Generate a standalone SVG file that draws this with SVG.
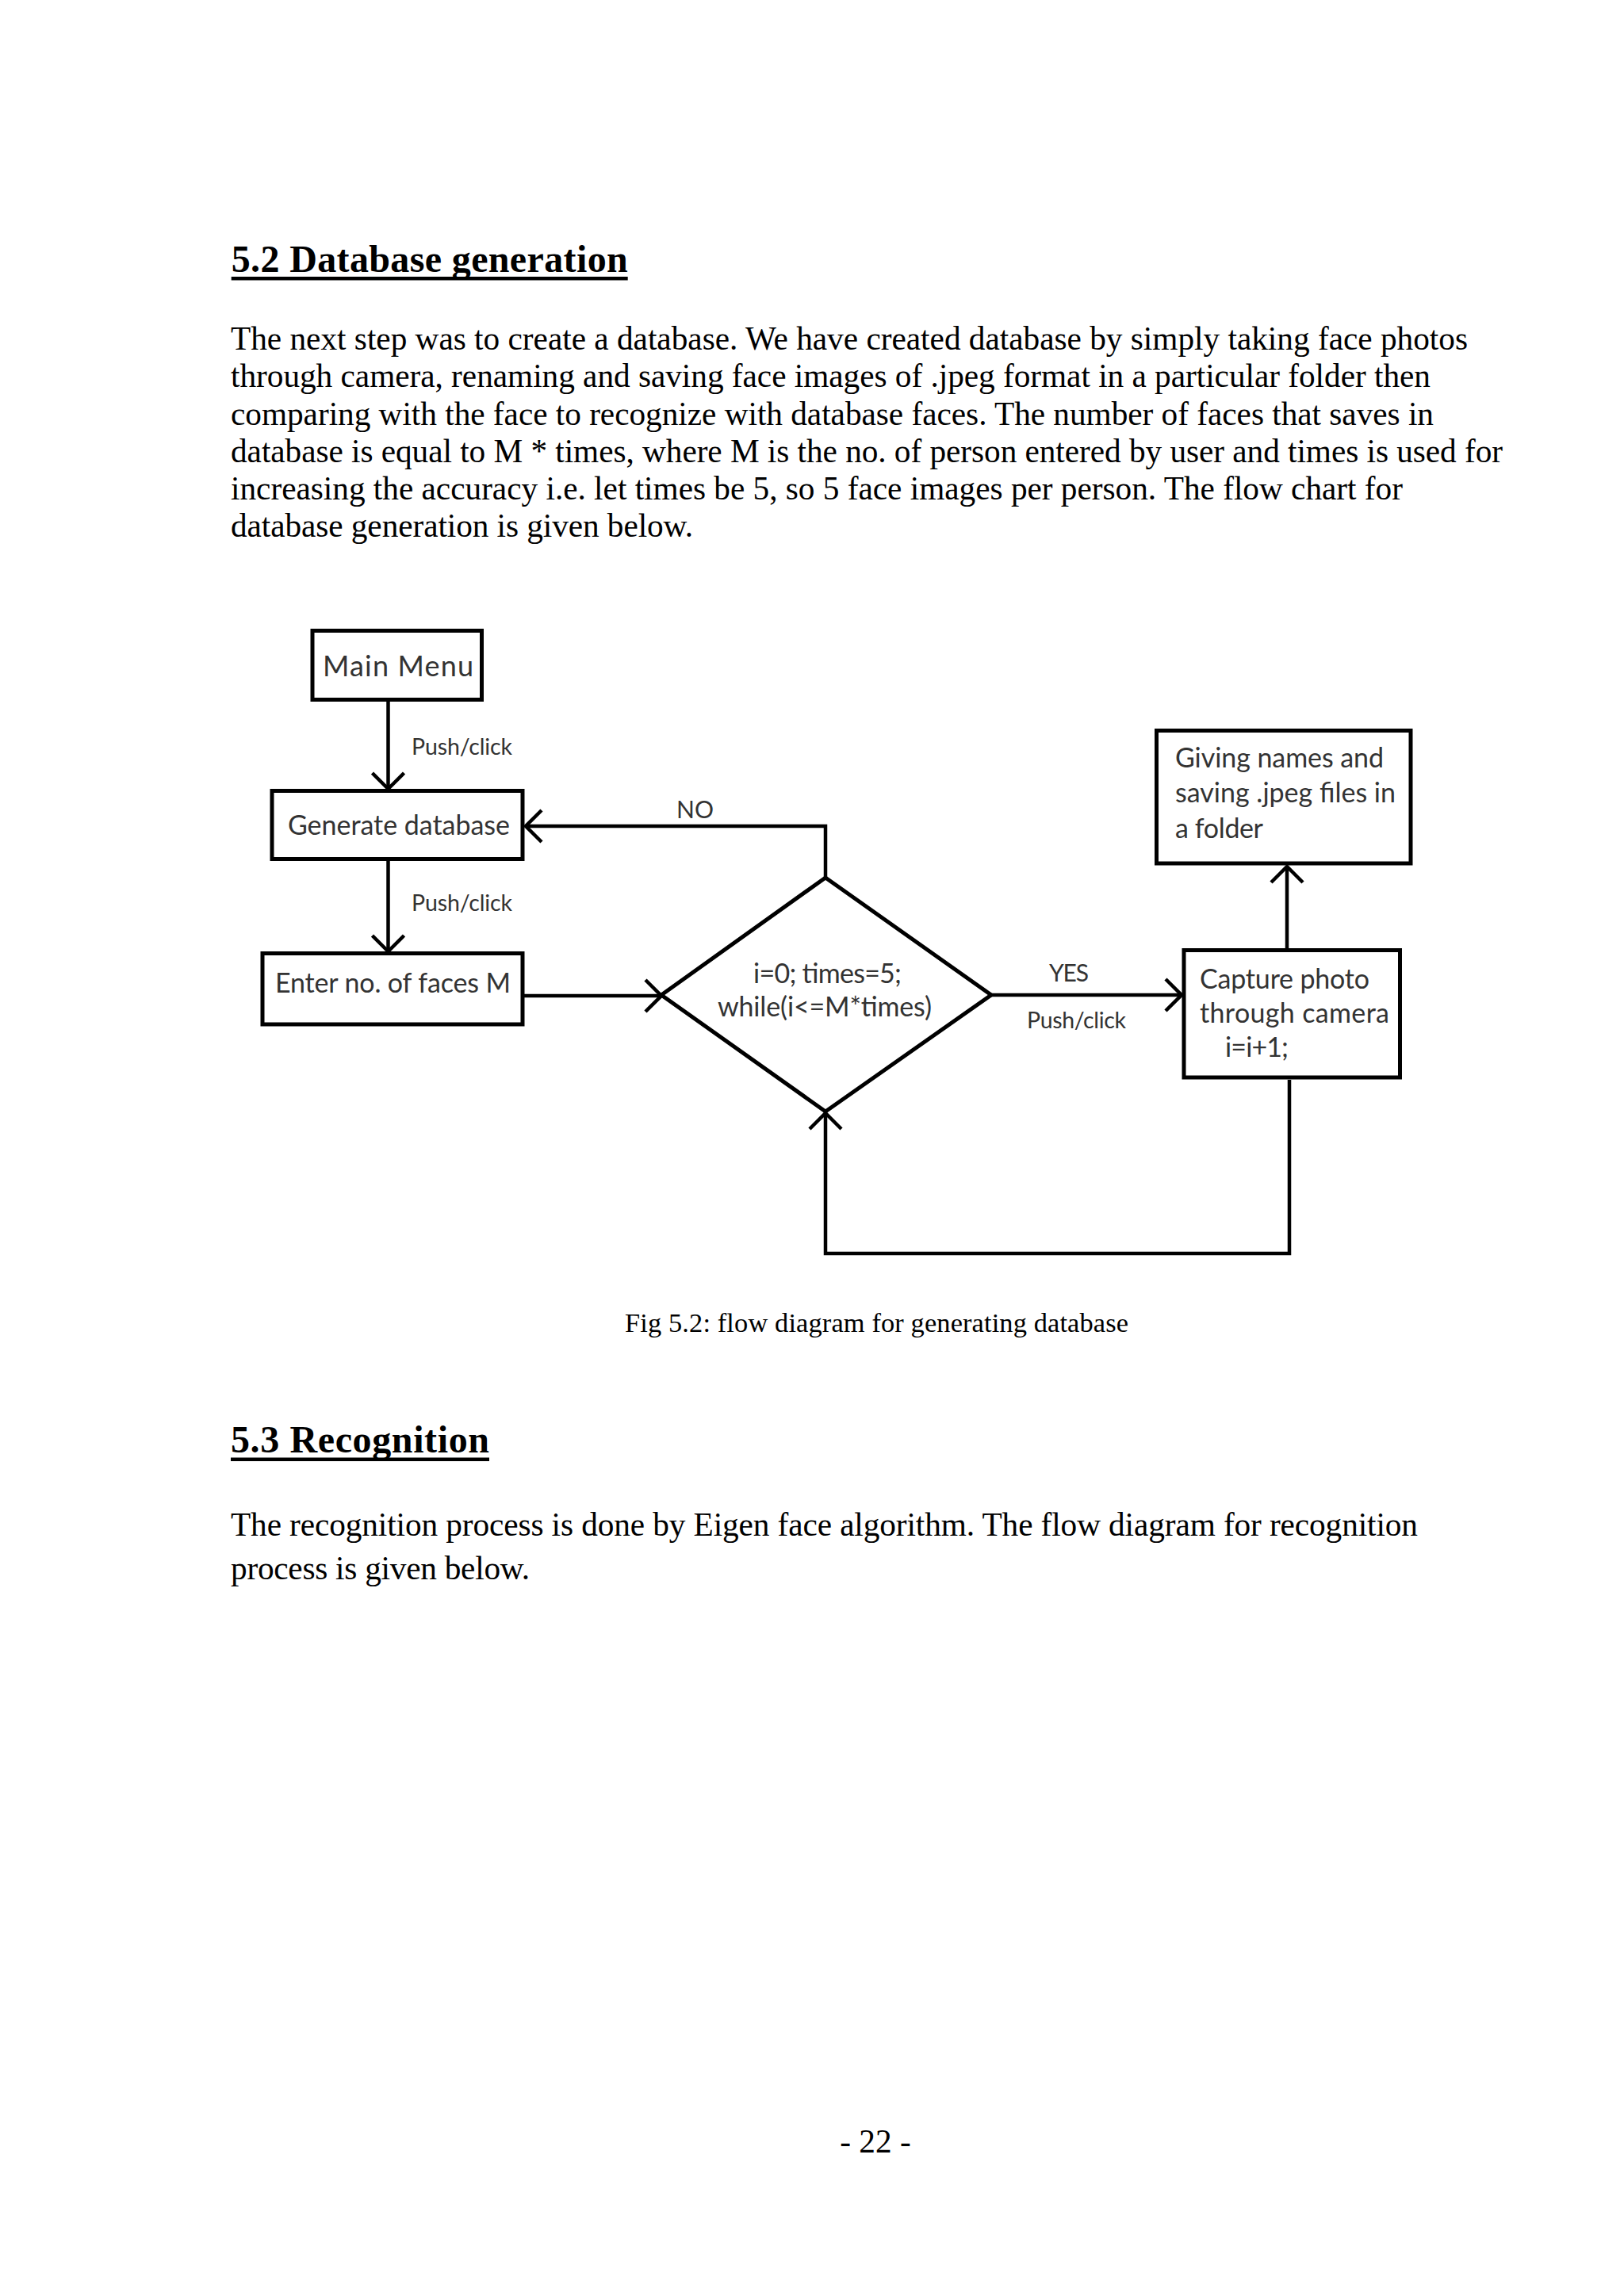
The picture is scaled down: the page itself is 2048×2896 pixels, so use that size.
<svg xmlns="http://www.w3.org/2000/svg" width="2048" height="2896" viewBox="0 0 2048 2896">
<style>
.body{font-family:"Liberation Serif","Times New Roman",serif;font-size:41.3px;fill:#000}
.head{font-family:"Liberation Serif","Times New Roman",serif;font-size:48px;font-weight:bold;fill:#000}
.cap{font-family:"Liberation Serif","Times New Roman",serif;font-size:34.4px;fill:#000}
.box{fill:#fff;stroke:#000;stroke-width:5}
.lbl{font-family:Lato,"Open Sans",sans-serif;font-size:34px;fill:#333}
.small{font-family:Lato,"Open Sans",sans-serif;font-size:28.5px;fill:#333}
.yn{font-family:Lato,"Open Sans",sans-serif;font-size:30px;fill:#333}
.edge{fill:none;stroke:#000;stroke-width:4.5}
</style>
<defs>
<marker id="chev" viewBox="0 0 24 44" refX="22" refY="22" markerWidth="24" markerHeight="44" markerUnits="userSpaceOnUse" orient="auto">
<path d="M2,2 L22,22 L2,42" fill="none" stroke="#000" stroke-width="4.5"/>
</marker>
</defs>
<rect x="0" y="0" width="2048" height="2896" fill="#fff"/>

<g id="text-5-2">
<text class="head" x="291.7" y="343" textLength="500" lengthAdjust="spacing">5.2 Database generation</text>
<rect x="291.7" y="349" width="500" height="4.5" fill="#000"/>
<text class="body" x="291" y="441" textLength="1560" lengthAdjust="spacing">The next step was to create a database. We have created database by simply taking face photos</text>
<text class="body" x="291" y="488" textLength="1513" lengthAdjust="spacing">through camera, renaming and saving face images of .jpeg format in a particular folder then</text>
<text class="body" x="291" y="535.5" textLength="1517" lengthAdjust="spacing">comparing with the face to recognize with database faces. The number of faces that saves in</text>
<text class="body" x="291" y="583" textLength="1604" lengthAdjust="spacing">database is equal to M * times, where M is the no. of person entered by user and times is used for</text>
<text class="body" x="291" y="630" textLength="1478" lengthAdjust="spacing">increasing the accuracy i.e. let times be 5, so 5 face images per person. The flow chart for</text>
<text class="body" x="291" y="677" textLength="583" lengthAdjust="spacing">database generation is given below.</text>
</g>

<g id="connectors">
<line class="edge" x1="489.5" y1="885" x2="489.5" y2="995" marker-end="url(#chev)"/>
<line class="edge" x1="489.5" y1="1086" x2="489.5" y2="1200" marker-end="url(#chev)"/>
<polyline class="edge" points="1041,1107 1041,1042 663,1042" marker-end="url(#chev)"/>
<line class="edge" x1="661" y1="1256" x2="834" y2="1256" marker-end="url(#chev)"/>
<line class="edge" x1="1250" y1="1255" x2="1490" y2="1255" marker-end="url(#chev)"/>
<line class="edge" x1="1623" y1="1196" x2="1623" y2="1093" marker-end="url(#chev)"/>
<polyline class="edge" points="1626,1362 1626,1581 1041,1581 1041,1404" marker-end="url(#chev)"/>
<text class="small" x="519" y="951.7" textLength="127" lengthAdjust="spacing">Push/click</text>
<text class="small" x="519" y="1149" textLength="127" lengthAdjust="spacing">Push/click</text>
<text class="yn" x="853" y="1032" textLength="47" lengthAdjust="spacing">NO</text>
<text class="yn" x="1323" y="1238" textLength="50" lengthAdjust="spacing">YES</text>
<text class="small" x="1295" y="1296.7" textLength="125" lengthAdjust="spacing">Push/click</text>
</g>

<g id="node-main-menu">
<rect class="box" x="394" y="795.5" width="213.5" height="87"/>
<text class="lbl" x="407" y="853" style="font-size:36px" textLength="190" lengthAdjust="spacing">Main Menu</text>
</g>
<g id="node-generate-database">
<rect class="box" x="343" y="997.5" width="316" height="86"/>
<text class="lbl" x="363" y="1053" textLength="280" lengthAdjust="spacing">Generate database</text>
</g>
<g id="node-enter-faces">
<rect class="box" x="331" y="1202.5" width="328" height="89.5"/>
<text class="lbl" x="347" y="1252" textLength="297" lengthAdjust="spacing">Enter no. of faces M</text>
</g>
<g id="node-decision">
<polygon class="box" points="834,1255 1041,1107 1250,1255 1041,1402" fill="none"/>
<text class="lbl" x="950" y="1240" textLength="187" lengthAdjust="spacing">i=0; times=5;</text>
<text class="lbl" x="905" y="1282" textLength="270" lengthAdjust="spacing">while(i&lt;=M*times)</text>
</g>
<g id="node-capture">
<rect class="box" x="1493" y="1198.5" width="272.5" height="160.5"/>
<text class="lbl" x="1513" y="1247" textLength="214" lengthAdjust="spacing">Capture photo</text>
<text class="lbl" x="1513" y="1290" textLength="239" lengthAdjust="spacing">through camera</text>
<text class="lbl" x="1545" y="1333" textLength="80" lengthAdjust="spacing">i=i+1;</text>
</g>
<g id="node-giving-names">
<rect class="box" x="1458.5" y="921.5" width="320.5" height="167.5"/>
<text class="lbl" x="1482" y="968" textLength="263" lengthAdjust="spacing">Giving names and</text>
<text class="lbl" x="1482" y="1012" textLength="278" lengthAdjust="spacing">saving .jpeg files in</text>
<text class="lbl" x="1482" y="1057" textLength="111" lengthAdjust="spacing">a folder</text>
</g>

<g id="caption">
<text class="cap" x="788" y="1680" textLength="635" lengthAdjust="spacing">Fig 5.2: flow diagram for generating database</text>
</g>

<g id="text-5-3">
<text class="head" x="291" y="1832" textLength="326" lengthAdjust="spacing">5.3 Recognition</text>
<rect x="291" y="1838.5" width="326" height="4.5" fill="#000"/>
<text class="body" x="291" y="1937" textLength="1497" lengthAdjust="spacing">The recognition process is done by Eigen face algorithm. The flow diagram for recognition</text>
<text class="body" x="291" y="1992" textLength="377" lengthAdjust="spacing">process is given below.</text>
</g>

<g id="page-number">
<text class="body" x="1104" y="2715" text-anchor="middle">- 22 -</text>
</g>
</svg>
